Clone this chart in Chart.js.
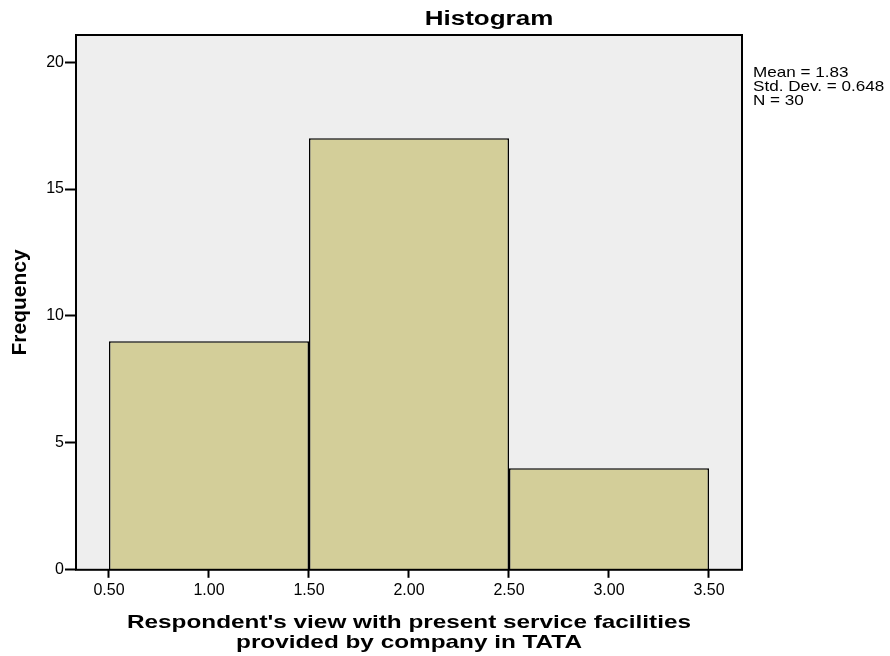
<!DOCTYPE html>
<html lang="en">
<head>
    <meta charset="UTF-8">
    <title>Histogram</title>
    <script src="https://cdn.jsdelivr.net/npm/chart.js"></script>
    <style>
        body {
            margin: 0;
            background: #ffffff;
        }
        .chart-container {
            width: 890px;
            height: 656px;
        }
    </style>
</head>
<body>
    <div class="chart-container">
        <canvas id="histChart"></canvas>
    </div>

    <script>
        // bin centres and counts
        const binCenters = [1.0, 2.0, 3.0];
        const frequencies = [9, 17, 4];
        const xTicks = [0.5, 1.0, 1.5, 2.0, 2.5, 3.0, 3.5];
        const yTicks = [0, 5, 10, 15, 20];
        const statsLines = ['Mean = 1.83', 'Std. Dev. = 0.648', 'N = 30'];
        const xTitleLines = ["Respondent's view with present service facilities", 'provided by company in TATA'];

        const FONT = "'Liberation Sans', Arial, sans-serif";

        // the SPSS export looks horizontally stretched, so text is drawn a bit wider
        function wideText(ctx, text, x, y, sx, align) {
            ctx.save();
            ctx.translate(x, y);
            ctx.scale(sx, 1);
            ctx.textAlign = align;
            ctx.fillText(text, 0, 0);
            ctx.restore();
        }

        // grey plot background + frame, titles and stats box
        const decorations = {
            id: 'decorations',
            beforeDraw(chart) {
                const { ctx, chartArea: a } = chart;
                ctx.save();
                ctx.fillStyle = '#eeeeee';
                ctx.fillRect(a.left, a.top, a.right - a.left, a.bottom - a.top);
                ctx.restore();
            },
            afterDraw(chart) {
                const { ctx, chartArea: a } = chart;
                const midX = (a.left + a.right) / 2;
                ctx.save();
                ctx.strokeStyle = '#000';
                ctx.lineWidth = 2;
                ctx.strokeRect(a.left, a.top, a.right - a.left, a.bottom - a.top);

                ctx.fillStyle = '#000';
                ctx.textBaseline = 'alphabetic';
                ctx.font = 'bold 20px ' + FONT;
                wideText(ctx, 'Histogram', 489, 25, 1.3, 'center');

                ctx.font = 'bold 19px ' + FONT;
                wideText(ctx, xTitleLines[0], midX, 628, 1.28, 'center');
                wideText(ctx, xTitleLines[1], midX, 648, 1.28, 'center');

                ctx.font = '15px ' + FONT;
                statsLines.forEach((line, i) => {
                    wideText(ctx, line, 753, 77 + i * 14, 1.14, 'left');
                });
                ctx.restore();
            }
        };

        new Chart(document.getElementById('histChart'), {
            type: 'bar',
            data: {
                datasets: [{
                    label: 'Frequency',
                    data: binCenters.map((x, i) => ({ x: x, y: frequencies[i] })),
                    backgroundColor: '#d3ce99',
                    borderColor: '#000000',
                    borderWidth: 1.5,
                    barPercentage: 1.0,
                    // ticks every 0.5 make chart.js think the sample spacing is 0.5,
                    // so double it to get bins of width 1
                    categoryPercentage: 2.0
                }]
            },
            plugins: [decorations],
            options: {
                responsive: true,
                maintainAspectRatio: false,
                animation: false,
                layout: {
                    padding: { top: 35, right: 148, bottom: 53, left: 8 }
                },
                plugins: {
                    legend: { display: false },
                    tooltip: { enabled: false }
                },
                scales: {
                    x: {
                        type: 'linear',
                        offset: false,
                        min: 0.335,
                        max: 3.665,
                        afterBuildTicks: axis => {
                            axis.ticks = xTicks.map(v => ({ value: v }));
                        },
                        grid: {
                            offset: false,
                            drawOnChartArea: false,
                            drawTicks: true,
                            tickLength: 8,
                            tickWidth: 2,
                            tickColor: '#000'
                        },
                        border: { display: false },
                        ticks: {
                            color: '#000',
                            font: { family: FONT, size: 16 },
                            padding: 3,
                            maxRotation: 0,
                            autoSkip: false,
                            callback: v => Number(v).toFixed(2)
                        }
                    },
                    y: {
                        type: 'linear',
                        min: 0,
                        max: 21.07,
                        afterBuildTicks: axis => {
                            axis.ticks = yTicks.map(v => ({ value: v }));
                        },
                        grid: {
                            drawOnChartArea: false,
                            drawTicks: true,
                            tickLength: 11,
                            tickWidth: 2,
                            tickColor: '#000'
                        },
                        border: { display: false },
                        ticks: {
                            color: '#000',
                            font: { family: FONT, size: 16 },
                            padding: 1
                        },
                        title: {
                            display: true,
                            text: 'Frequency',
                            color: '#000',
                            font: { family: FONT, size: 21, weight: 'bold' },
                            padding: { top: 0, bottom: 12 }
                        }
                    }
                }
            }
        });
    </script>
</body>
</html>
